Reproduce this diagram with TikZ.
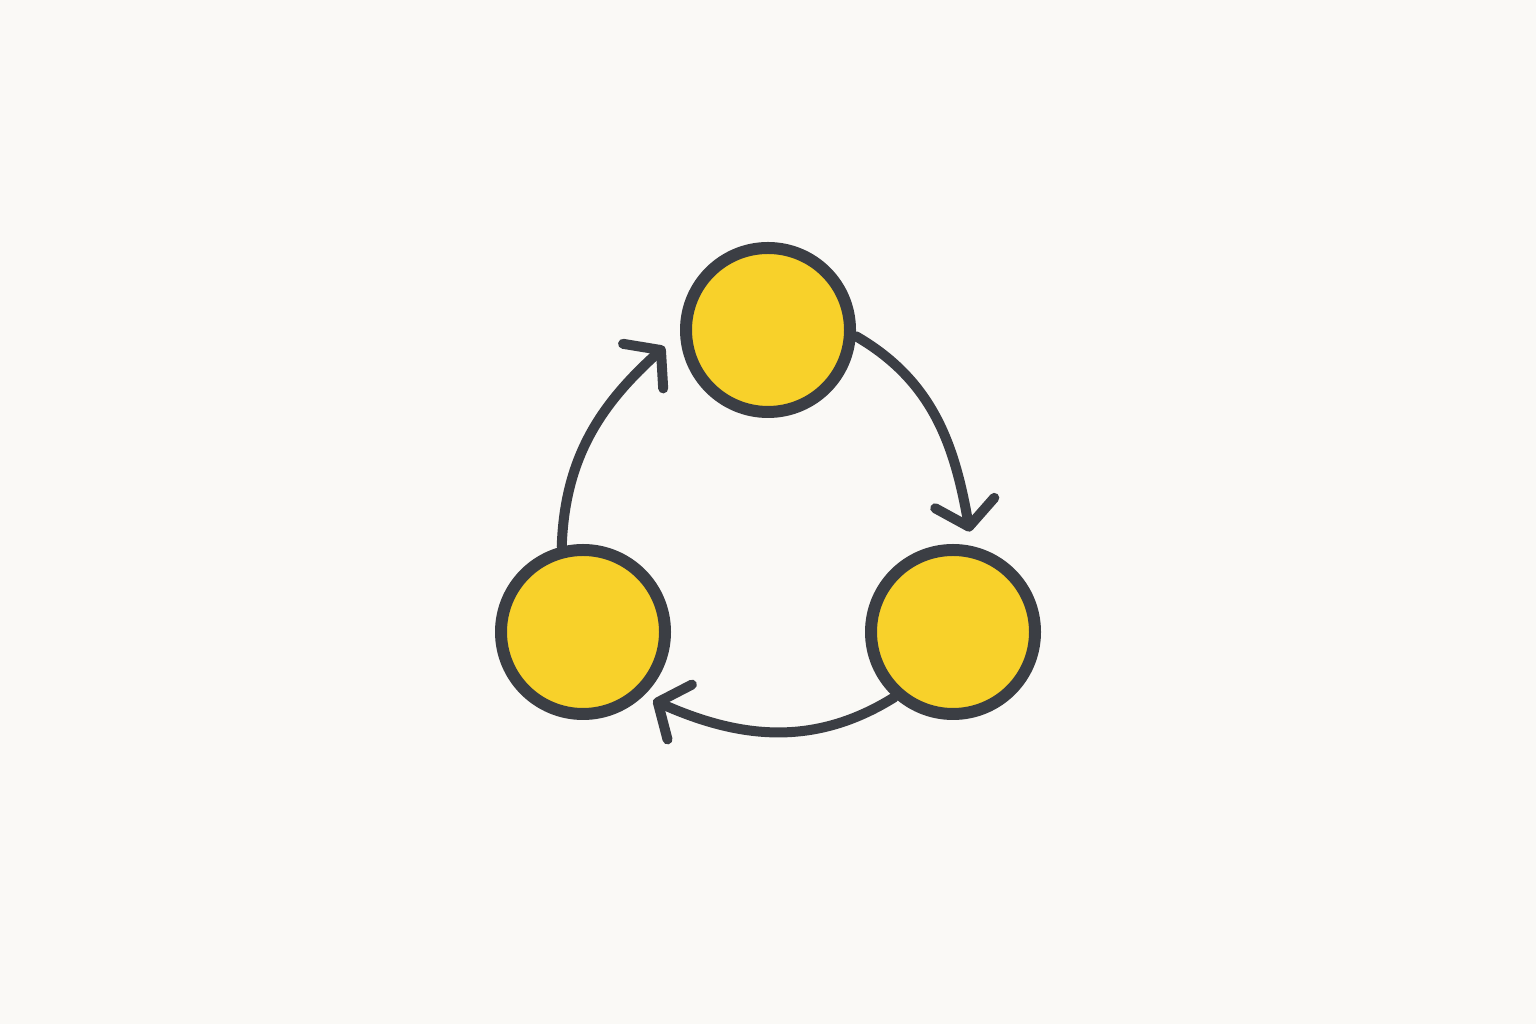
\documentclass[tikz,border=0pt]{standalone}
\usetikzlibrary{arrows.meta}
\definecolor{ink}{HTML}{3B3E44}
\definecolor{sun}{HTML}{F8D12A}
\definecolor{paper}{HTML}{FAF9F6}
\tikzset{
  disc/.style={circle, fill=sun, draw=ink, line width=12pt, minimum size=164pt, inner sep=0pt},
  cyc/.style={draw=ink, line width=10pt, line cap=round, -{Straight Barb[round, length=24pt, width=60pt]}}
}
\begin{document}
\begin{tikzpicture}[x=1pt,y=1pt]
\fill[paper] (0,0) rectangle (1536,1024);
\useasboundingbox (0,0) rectangle (1536,1024);
\node [disc] (top) at (768,694) {};
\node [disc] (rgt) at (953,392) {};
\node [disc] (lft) at (583,392) {};
\draw [cyc] (top.-4) to[out=-30, in=100] ([shift={(0,14)}]rgt.79);
\draw [cyc] (rgt.228) to[out=212, in=-24] ([shift={(8,-6)}]lft.-45);
\draw [cyc] (lft.104) to[out=88, in=-138] ([shift={(-16,-6)}]top.187);
\end{tikzpicture}
\end{document}
